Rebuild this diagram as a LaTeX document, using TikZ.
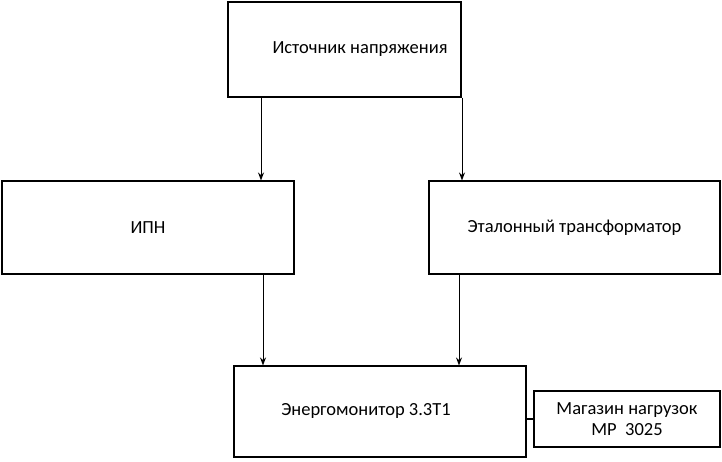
\documentclass[tikz,border=0pt]{standalone}
\usepackage{fontspec}
\setmainfont{Carlito}
\usetikzlibrary{arrows.meta}
\begin{document}
\begin{tikzpicture}[x=1pt,y=-1pt,
  box/.style={draw,line width=1.1pt,inner sep=0pt,font=\fontsize{18.5}{21}\selectfont,align=center},
  arr/.style={line width=1pt,-{Stealth[length=8pt,width=6pt]}}]
\useasboundingbox (0,0) rectangle (722,461);
\node[box,minimum width=233pt,minimum height=95pt] (src) at (344.5,49.5) {};
\node[font=\fontsize{18.5}{21}\selectfont] at (360,49) {Источник напряжения};
\node[box,minimum width=292pt,minimum height=93pt] (ipn) at (148,227.5) {ИПН};
\node[box,minimum width=291pt,minimum height=93pt] (et) at (574.5,227.5) {Эталонный трансформатор};
\node[box,minimum width=292pt,minimum height=91pt] (en) at (380,411.5) {};
\node[font=\fontsize{18.5}{21}\selectfont] at (366,411) {Энергомонитор 3.3Т1};
\node[box,minimum width=186pt,minimum height=56pt] (mg) at (627,419) {Магазин нагрузок\\МР\ \ 3025};
\coordinate (c1) at (261,0);
\coordinate (c2) at (462,0);
\coordinate (c3) at (263,0);
\coordinate (c4) at (459,0);
\draw[arr] (src.south -| c1) -- (ipn.north -| c1);
\draw[arr] (src.south -| c2) -- (et.north -| c2);
\draw[arr] (ipn.south -| c3) -- (en.north -| c3);
\draw[arr] (et.south -| c4) -- (en.north -| c4);
\draw[line width=1.1pt] (en.east |- mg.west) -- (mg.west);
\end{tikzpicture}
\end{document}
